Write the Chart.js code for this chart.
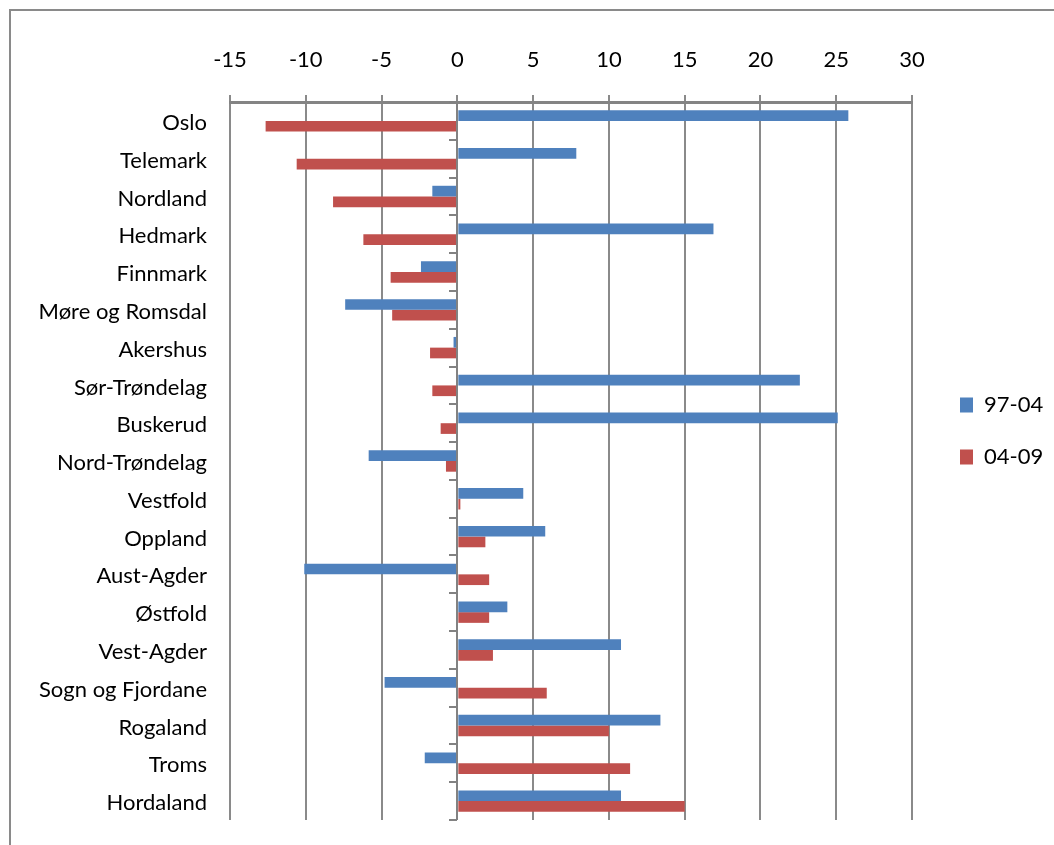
<!DOCTYPE html>
<html>
<head>
<meta charset="utf-8">
<script src="https://cdn.jsdelivr.net/npm/chart.js@4.4.1/dist/chart.umd.min.js"></script>
<style>
  html, body { margin: 0; padding: 0; background: #fff; }
  #wrap { position: relative; width: 1054px; height: 845px; overflow: hidden; }
  #frame { position: absolute; left: 9px; top: 9px; width: 2000px; height: 2000px;
           border-left: 2px solid #8a8a8a; border-top: 2px solid #8a8a8a; pointer-events: none; }
  canvas { position: absolute; left: 0; top: 0; }
</style>
</head>
<body>
<div id="wrap">
  <canvas id="chart" width="1054" height="845"></canvas>
  <div id="frame"></div>
</div>
<script>
// Counties, top to bottom
const counties = ['Oslo', 'Telemark', 'Nordland', 'Hedmark', 'Finnmark', 'Møre og Romsdal',
  'Akershus', 'Sør-Trøndelag', 'Buskerud', 'Nord-Trøndelag', 'Vestfold', 'Oppland',
  'Aust-Agder', 'Østfold', 'Vest-Agder', 'Sogn og Fjordane', 'Rogaland', 'Troms', 'Hordaland'];

// Change per period
const period9704 = [25.8, 7.85, -1.65, 16.9, -2.4, -7.4, -0.25, 22.6, 25.1, -5.85,
  4.35, 5.8, -10.1, 3.3, 10.8, -4.8, 13.4, -2.15, 10.8];
const period0409 = [-12.65, -10.6, -8.2, -6.2, -4.4, -4.3, -1.8, -1.65, -1.1, -0.75,
  0.2, 1.85, 2.1, 2.1, 2.35, 5.9, 10.0, 11.4, 15.0];

const seriesNames = ['97-04', '04-09'];
const xTicks = { min: -15, max: 30, step: 5 };

const FONT = { family: 'Lato', size: 22 };
const GRID = '#8a8a8a';

// Legend sizing: keep the legend block at a fixed offset right of the plot
const measure = document.createElement('canvas').getContext('2d');
measure.font = FONT.size + 'px ' + FONT.family;
const legendTextW = Math.max(...seriesNames.map(s => measure.measureText(s).width));
const LEGEND_PAD = 30, BOX_W = 13;
const legendW = LEGEND_PAD + BOX_W + FONT.size / 2 + legendTextW + 10;
const legendLeft = 930;
const rightPad = 1054 - legendLeft - legendW;
const PAD_TOP = 42, PAD_BOTTOM = 25;

// Vertical axis through zero with tick marks between counties
const zeroAxis = {
  id: 'zeroAxis',
  afterDatasetsDraw(chart) {
    const { ctx, chartArea, scales: { x, y } } = chart;
    const x0 = Math.round(x.getPixelForValue(0));
    const n = counties.length;
    ctx.save();
    ctx.strokeStyle = '#828282';
    ctx.lineWidth = 2;
    ctx.beginPath();
    ctx.moveTo(x0, chartArea.top);
    ctx.lineTo(x0, chartArea.bottom);
    for (let i = 0; i <= n; i++) {
      let yy;
      if (i === 0) yy = chartArea.top;
      else if (i === n) yy = chartArea.bottom;
      else yy = (y.getPixelForValue(i - 1) + y.getPixelForValue(i)) / 2;
      yy = Math.round(yy);
      ctx.moveTo(x0 - 8, yy);
      ctx.lineTo(x0, yy);
    }
    ctx.stroke();
    ctx.restore();
  }
};

new Chart(document.getElementById('chart'), {
  type: 'bar',
  data: {
    labels: counties,
    datasets: [
      { label: seriesNames[0], data: period9704, backgroundColor: '#4F81BD', borderWidth: 0 },
      { label: seriesNames[1], data: period0409, backgroundColor: '#C0504D', borderWidth: 0 }
    ]
  },
  options: {
    indexAxis: 'y',
    responsive: false,
    animation: false,
    events: [],
    categoryPercentage: 0.566,
    barPercentage: 1.0,
    layout: { padding: { top: PAD_TOP, right: rightPad, left: 0, bottom: PAD_BOTTOM } },
    scales: {
      x: {
        position: 'top',
        min: xTicks.min,
        max: xTicks.max,
        ticks: { stepSize: xTicks.step, color: '#000', font: FONT, padding: 22 },
        grid: { color: GRID, lineWidth: 2, tickLength: 7, tickColor: GRID, tickWidth: 2 },
        border: { display: true, color: '#848484', width: 3 },
        afterFit(s) { s.height = 102 - PAD_TOP; }
      },
      y: {
        position: 'left',
        grid: { display: false, drawTicks: false },
        border: { display: false },
        ticks: { color: '#000', font: FONT, padding: 23, autoSkip: false, labelOffset: 2 },
        afterFit(s) { s.width = 230; s.paddingTop = 0; s.paddingBottom = 0; }
      },
      ySpacer: {
        type: 'category',
        position: 'right',
        grid: { display: false, drawTicks: false },
        border: { display: false },
        ticks: { display: false },
        afterFit(s) { s.width = legendLeft - 912; s.paddingTop = 0; s.paddingBottom = 0; }
      }
    },
    plugins: {
      legend: {
        position: 'right',
        align: 'center',
        labels: {
          boxWidth: BOX_W, boxHeight: 15, padding: LEGEND_PAD,
          color: '#000', font: FONT
        }
      },
      tooltip: { enabled: false }
    }
  },
  plugins: [zeroAxis]
});
</script>
</body>
</html>
